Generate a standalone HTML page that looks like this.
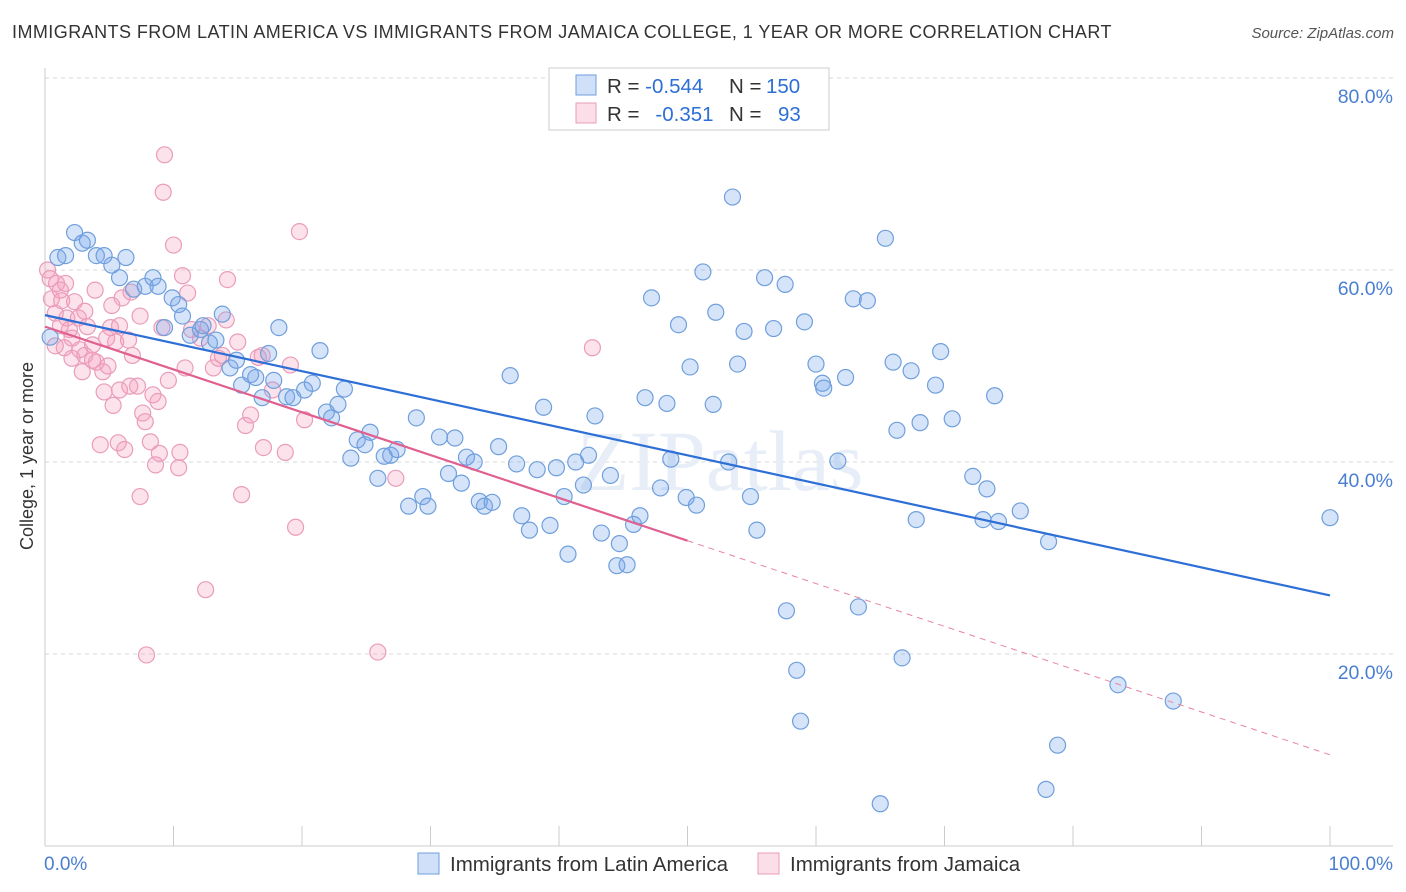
<!DOCTYPE html>
<html><head><meta charset="utf-8">
<style>
body{margin:0;background:#fff;font-family:"Liberation Sans",sans-serif;}
#wrap{position:relative;width:1406px;height:892px;overflow:hidden}
.t{position:absolute;white-space:nowrap}
</style></head><body>
<div id="wrap">
<div class="t" style="left:12px;top:22px;font-size:18px;letter-spacing:0.44px;color:#333">IMMIGRANTS FROM LATIN AMERICA VS IMMIGRANTS FROM JAMAICA COLLEGE, 1 YEAR OR MORE CORRELATION CHART</div>
<div class="t" style="right:12px;top:25px;font-size:15px;color:#555;font-style:italic">Source: ZipAtlas.com</div>
<svg id="svg" width="1406" height="892" style="position:absolute;left:0;top:0"></svg>
</div>
<script>
const blueX=[0.4,1.0,1.6,2.3,2.9,3.3,4.0,4.6,5.2,5.8,6.3,6.9,7.8,8.4,8.8,9.3,9.9,10.4,10.7,11.3,12.1,12.3,12.8,13.3,13.8,14.4,14.9,15.3,16.0,16.4,16.9,17.4,17.8,18.2,18.8,19.3,20.2,20.8,21.4,21.9,22.3,22.8,23.3,23.8,24.3,24.9,25.3,25.9,26.4,26.9,27.4,28.3,28.9,29.4,29.8,30.7,31.4,31.9,32.4,32.8,33.4,33.8,34.2,34.8,35.3,36.2,36.7,37.1,37.7,38.3,38.8,39.3,39.8,40.4,40.7,41.3,41.9,42.3,42.8,43.3,44.0,44.5,44.7,45.3,45.8,46.3,46.7,47.2,47.9,48.4,48.7,49.3,49.9,50.2,50.7,51.2,52.0,52.2,53.2,53.5,53.9,54.4,54.9,55.4,56.0,56.7,57.6,57.7,58.5,58.8,59.1,60.0,60.5,60.6,61.7,62.3,62.9,63.3,64.0,65.0,65.4,66.0,66.3,66.7,67.4,67.8,68.1,69.3,69.7,70.6,72.2,73.0,73.3,74.2,73.9,75.9,78.1,78.8,77.9,83.5,87.8,100];
const blueY=[53.0,61.3,61.5,63.9,62.8,63.1,61.5,61.5,60.5,59.2,61.3,58.0,58.3,59.2,58.3,54.0,57.1,56.4,55.2,53.2,53.8,54.2,52.4,52.7,55.4,49.8,50.6,48.0,49.1,48.8,46.7,51.3,48.5,54.0,46.8,46.7,47.5,48.2,51.6,45.2,44.6,46.0,47.6,40.4,42.3,41.8,43.1,38.3,40.6,40.7,41.3,35.4,44.6,36.4,35.4,42.6,38.8,42.5,37.8,40.5,40.0,35.9,35.4,35.8,41.6,49.0,39.8,34.4,32.9,39.2,45.7,33.4,39.4,36.4,30.4,40.0,37.6,40.7,44.8,32.6,38.6,29.2,31.5,29.3,33.5,34.4,46.7,57.1,37.3,46.1,40.3,54.3,36.3,49.9,35.5,59.8,46.0,55.6,40.0,67.6,50.2,53.6,36.4,32.9,59.2,53.9,58.5,24.5,18.3,13.0,54.6,50.2,48.2,47.7,40.1,48.8,57.0,24.9,56.8,4.4,63.3,50.4,43.3,19.6,49.5,34.0,44.1,48.0,51.5,44.5,38.5,34.0,37.2,33.8,46.9,34.9,31.7,10.5,5.9,16.8,15.1,34.2];
const pinkX=[0.2,0.4,0.5,0.8,0.9,1.2,1.3,1.5,1.7,1.9,2.1,2.3,2.6,2.7,2.9,3.1,3.3,3.7,3.9,4.0,4.3,4.5,4.6,4.8,5.1,5.3,5.5,5.7,5.8,6.0,6.2,6.5,6.7,6.8,7.2,7.4,7.6,7.8,7.9,8.2,8.4,8.6,8.8,8.9,9.1,9.3,9.2,9.6,10.0,10.4,10.5,10.7,10.9,11.1,11.4,12.1,12.5,12.7,13.1,13.5,13.8,14.1,14.2,15.0,15.3,15.6,16.0,16.6,16.9,17.0,17.7,18.7,19.1,19.5,19.8,20.2,25.9,27.3,42.6,0.8,1.2,3.1,5.8,7.4,5.2,1.6,2.1,3.7,6.6,4.9];
const pinkY=[60.0,59.1,57.0,55.5,58.6,57.9,56.8,51.9,55.0,53.8,50.8,56.7,55.0,51.7,49.4,51.1,54.1,52.2,57.9,50.4,41.8,49.4,47.3,52.9,54.0,45.9,52.5,42.0,47.5,57.1,41.3,52.7,57.7,51.1,47.9,36.4,45.1,44.2,19.9,42.1,47.0,39.7,46.3,40.9,54.0,72.0,68.1,48.5,62.6,39.4,41.0,59.4,49.8,57.6,53.8,52.9,26.7,54.2,49.8,50.8,51.1,54.8,59.0,52.5,36.6,43.8,44.9,50.9,51.1,41.5,47.5,41.0,50.1,33.2,64.0,44.4,20.2,38.3,51.9,52.1,54.2,55.7,54.2,55.2,56.3,58.6,52.9,50.6,47.9,50.0];
const blueTrend=[55.3,26.1];
const pinkTrend=[54.1,9.5];
const pinkSolidEnd=50;
const yTicks=[20,40,60,80];
const xTickLabels=["0.0%","100.0%"];

const NS="http://www.w3.org/2000/svg";
const svg=document.getElementById('svg');
const X0=45,X1=1330,Y0=846,YS=9.6;
const sx=v=>X0+(X1-X0)*v/100;
const sy=v=>Y0-v*YS;
function mk(tag,attrs){const e=document.createElementNS(NS,tag);for(const k in attrs)e.setAttribute(k,attrs[k]);svg.appendChild(e);return e;}

yTicks.forEach(t=>{
  const g=mk('line',{x1:X0,x2:1393,y1:sy(t),y2:sy(t),stroke:'#d8d8d8','stroke-dasharray':'4,4','stroke-width':1});
  
  
  const l=mk('text',{x:1393,y:sy(t)+25,'text-anchor':'end','font-size':19.5,fill:'#4a7fd0','font-family':'Liberation Sans, sans-serif'});
  l.textContent=t.toFixed(1)+'%';
  
  
});
const ax=mk('line',{x1:X0,x2:X0,y1:68,y2:Y0,stroke:'#ccc'});


const bx=mk('line',{x1:X0,x2:1393,y1:Y0,y2:Y0,stroke:'#ccc'});


for(let i=0;i<=10;i++){
  const tk=mk('line',{x1:sx(i*10),x2:sx(i*10),y1:826,y2:Y0,stroke:'#ccc'});
  
  
}
const wm=mk('text',{x:720,y:490,'text-anchor':'middle','font-size':86,fill:'#e7eef7','font-family':'Liberation Serif, serif'});
wm.textContent='ZIPatlas';



function dots(xs,ys,fill,stroke,name){
  xs.forEach((x,i)=>{
    const c=mk('circle',{cx:sx(x),cy:sy(ys[i]),r:8,fill:fill,stroke:stroke,'stroke-width':1.2});
    
    
  });
}
dots(pinkX,pinkY,'rgba(244,160,190,0.3)','#ea9cba','jamaica-point');
dots(blueX,blueY,'rgba(120,165,235,0.3)','#6f9fdc','latin-america-point');

const bl=mk('line',{x1:sx(0),y1:sy(blueTrend[0]),x2:sx(100),y2:sy(blueTrend[1]),stroke:'#2d6fd6','stroke-width':2.2});


const pm=pinkTrend[0]+(pinkTrend[1]-pinkTrend[0])*pinkSolidEnd/100;
const pl=mk('line',{x1:sx(0),y1:sy(pinkTrend[0]),x2:sx(pinkSolidEnd),y2:sy(pm),stroke:'#e0608f','stroke-width':2.2});


const pd=mk('line',{x1:sx(pinkSolidEnd),y1:sy(pm),x2:sx(100),y2:sy(pinkTrend[1]),stroke:'#e8849f','stroke-width':1,'stroke-dasharray':'6,5'});



[[sx(0)-1,'start',xTickLabels[0]],[1393,'end',xTickLabels[1]]].forEach((a,i)=>{
  const t=mk('text',{x:a[0],y:870,'text-anchor':a[1],'font-size':19,fill:'#4a7fd0','font-family':'Liberation Sans, sans-serif'});
  t.textContent=a[2];
  
  
});
const yt=mk('text',{x:0,y:0,transform:'translate(33,456) rotate(-90)','text-anchor':'middle','font-size':18,fill:'#333','font-family':'Liberation Sans, sans-serif'});
yt.textContent='College, 1 year or more';



const lb=mk('rect',{x:549,y:68,width:280,height:62,fill:'#fff',stroke:'#ccc'});


[[75,'rgba(120,165,235,0.35)','#6f9fdc','-0.544','150'],[103,'rgba(244,160,190,0.35)','#ea9cba','-0.351','93']].forEach((r,i)=>{
  const s=mk('rect',{x:576,y:r[0],width:20,height:20,fill:r[1],stroke:r[2]});
  
  
  const t=mk('text',{x:607,y:r[0]+18,'font-size':20.5,fill:'#333','font-family':'Liberation Sans, sans-serif'});
  t.innerHTML='R = <tspan fill="#2d6fd6">'+(i?'\u2002':'')+r[3]+'</tspan><tspan x="729">N = </tspan><tspan fill="#2d6fd6" x="'+(i?778:766)+'">'+r[4]+'</tspan>';
  
  
});
[[418,'rgba(120,165,235,0.35)','#6f9fdc','Immigrants from Latin America'],[758,'rgba(244,160,190,0.35)','#ea9cba','Immigrants from Jamaica']].forEach((r,i)=>{
  const s=mk('rect',{x:r[0],y:853,width:21,height:21,fill:r[1],stroke:r[2]});
  
  
  const t=mk('text',{x:r[0]+32,y:871,'font-size':20.5,fill:'#333','font-family':'Liberation Sans, sans-serif'});
  t.textContent=r[3];
  
  
});
</script>
</body></html>
